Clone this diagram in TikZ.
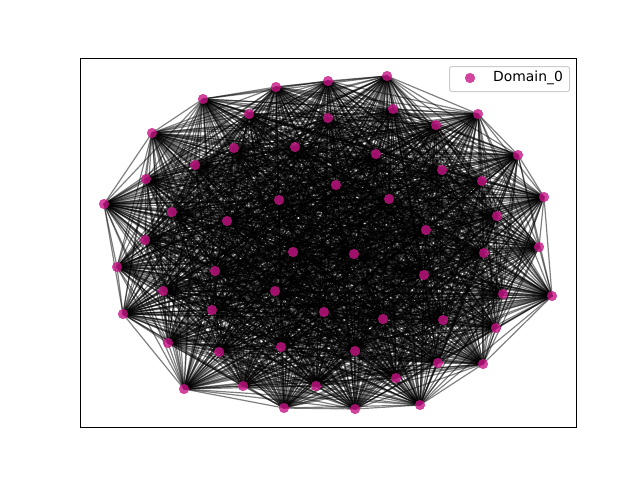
\documentclass[tikz,border=0pt]{standalone}
\usepackage{fontspec}
\setmainfont{DejaVu Sans}
\usetikzlibrary{backgrounds}
\definecolor{mvr}{RGB}{199,21,133}
\begin{document}
\begin{tikzpicture}[x=1pt,y=-1pt,
  vtx/.style={circle,inner sep=0pt,minimum size=9.6pt,fill=mvr,fill opacity=0.8,draw=mvr,draw opacity=0.8,line width=0.4pt},
  edge/.style={draw=black,opacity=0.5,line width=1.2pt},
  frame/.style={draw=black,line width=1pt},
  legbox/.style={draw=black!20,fill=white,fill opacity=0.8,rounded corners=2.5pt,line width=1pt}]
\useasboundingbox (0,0) rectangle (640,480);
\foreach \k/\x/\y in {
1/104/204,2/117/267,3/123/314,4/152/133,5/146/179,6/145/240,7/163/291,8/168/343,9/184/389,10/203/99,
11/195/165,12/172/212,13/215/271,14/212/310,15/219/352,16/243/386,17/249/114,18/234/148,19/227/221,20/276/87,
21/295/147,22/279/200,23/275/291,24/281/347,25/284/408,26/316/386,27/328/81,28/328/118,29/336/185,30/293/252,
31/324/312,32/355/351,33/355/409,34/387/76,35/393/109,36/376/154,37/389/199,38/354/254,39/383/319,40/396/378,
41/420/405,42/436/125,43/442/170,44/426/230,45/424/275,46/443/320,47/438/363,48/478/114,49/482/181,50/497/216,
51/484/253,52/503/294,53/496/328,54/483/364,55/518/155,56/544/197,57/539/247,58/552/296}
  {\node[vtx] (n\k) at (\x,\y) {};}
\begin{pgfonlayer}{background}
\foreach \i in {1,...,57}{
  \pgfmathtruncatemacro\jstart{\i+1}
  \foreach \j in {\jstart,...,58}{
    \draw[edge] (n\i.center) -- (n\j.center);
  }
}
\end{pgfonlayer}
\node[frame,inner sep=0pt,minimum width=496pt,minimum height=369pt,anchor=north west] (axes) at (80,58) {};
\node[legbox,inner sep=0pt,minimum width=120pt,minimum height=25pt,anchor=north west] (legend) at (449,66) {};
\node[vtx] (legmark) at (470,78) {};
\node[anchor=west,inner sep=0pt,font=\fontsize{13.9}{16}\selectfont] (legtext) at (493,78) {Domain\_0};
\end{tikzpicture}
\end{document}
